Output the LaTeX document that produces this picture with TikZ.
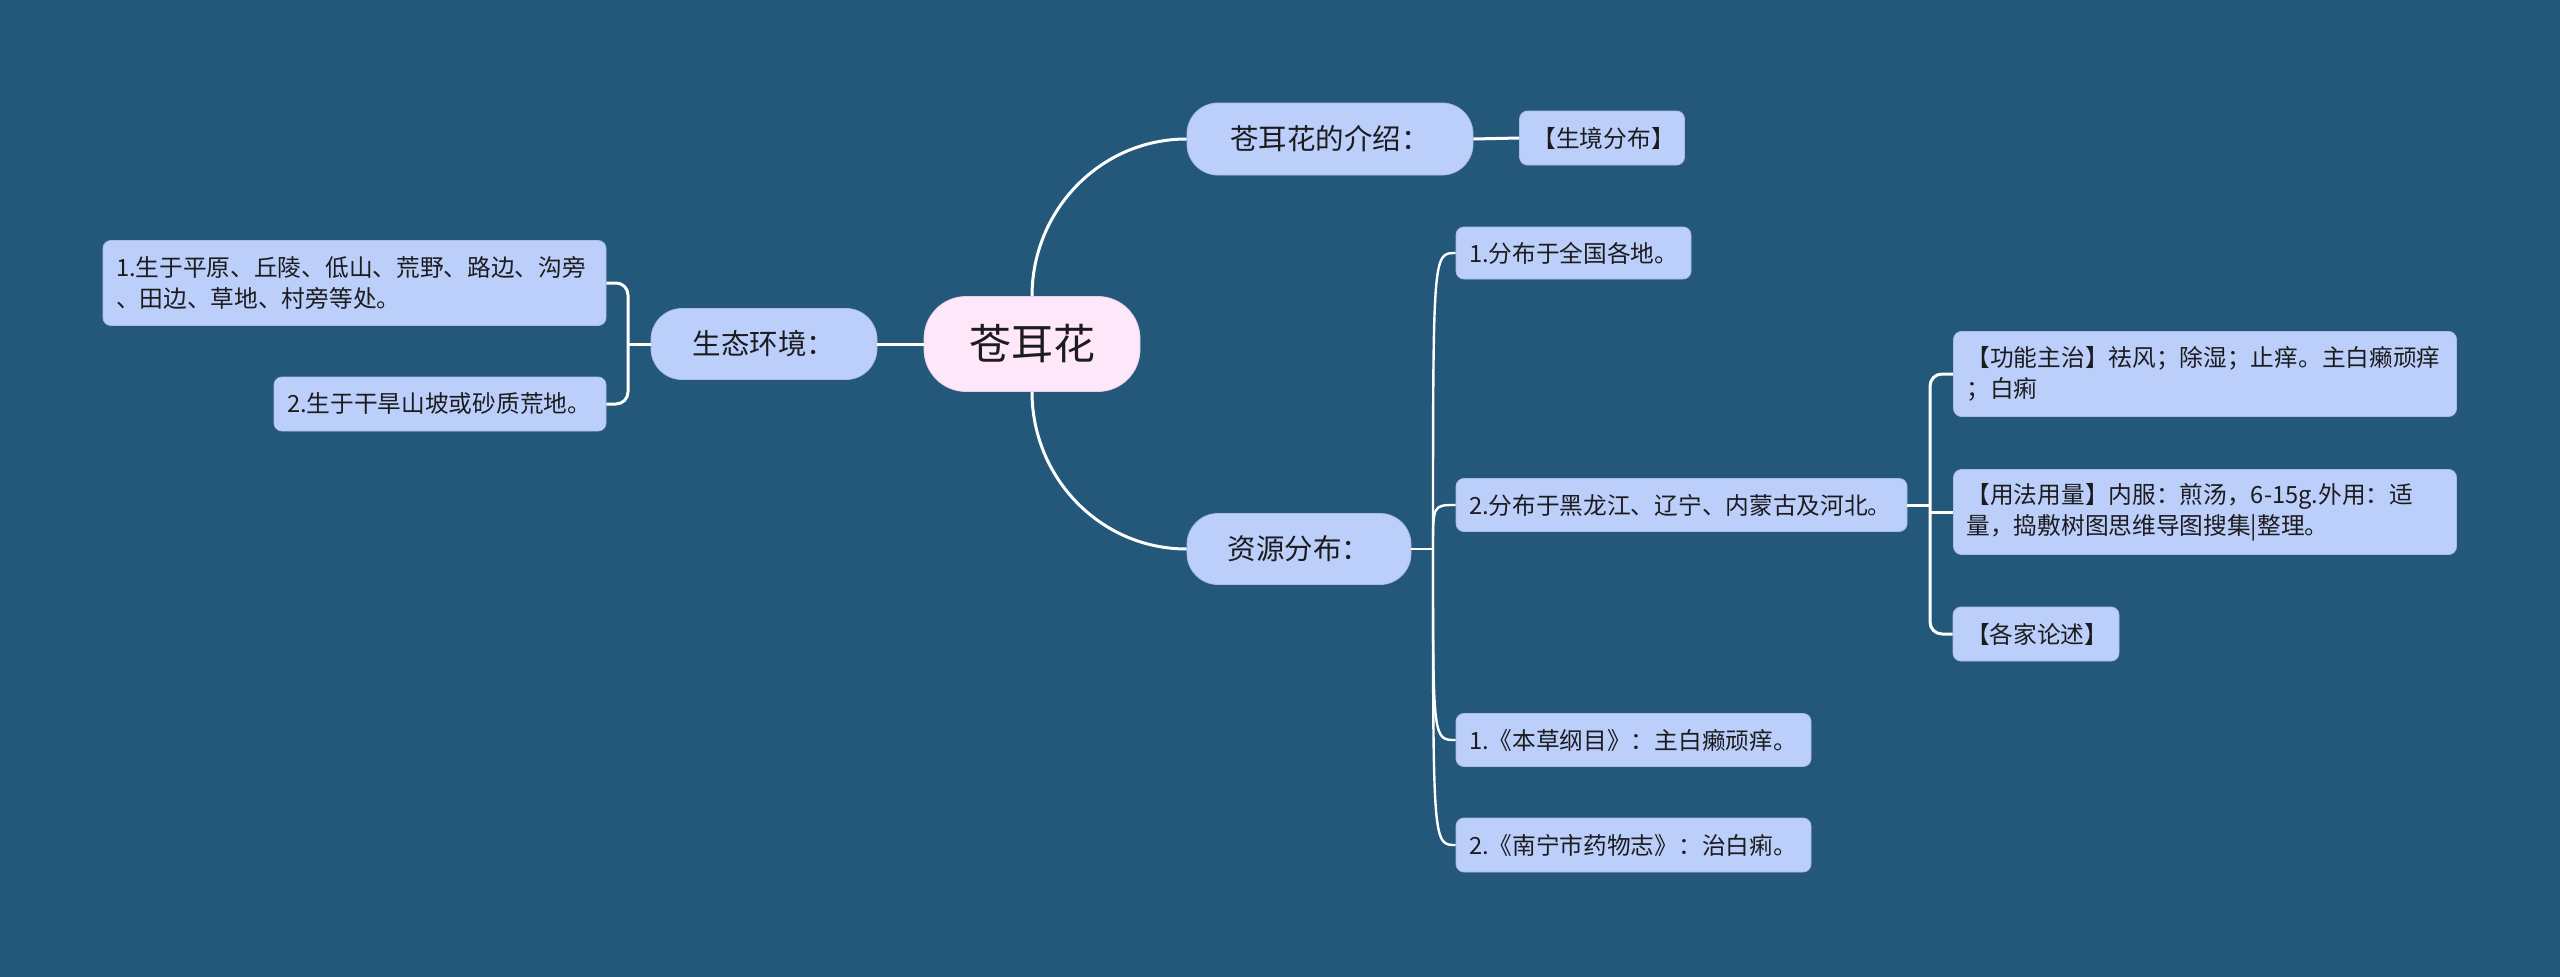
\documentclass[tikz,border=0pt]{standalone}
\usepackage{fontspec}
\setmainfont{Noto Sans CJK SC}
\usetikzlibrary{calc}
\definecolor{bg}{RGB}{35,88,123}
\definecolor{nodeblue}{RGB}{188,207,251}
\definecolor{rootpink}{RGB}{253,231,249}
\definecolor{txt}{RGB}{28,28,30}
\tikzset{
  leaf/.style={fill=nodeblue, draw=nodeblue!85!black!60!nodeblue, line width=0.8pt, rounded corners=8pt, inner xsep=13pt, inner ysep=0pt,
    font=\fontsize{23.7}{31}\selectfont, text=txt, align=left, anchor=center},
  pill/.style={fill=nodeblue, draw=nodeblue!85!black!60!nodeblue, line width=0.8pt, inner sep=0pt, text=txt, align=center, anchor=center,
    font=\fontsize{28.5}{34}\selectfont},
  link/.style={draw=white, line width=3pt},
  thinlink/.style={draw=white, line width=2.4pt},
}
\begin{document}
\begin{tikzpicture}[x=1pt,y=-1pt]
\fill[bg] (0,0) rectangle (2560,977);
\useasboundingbox (0,0) rectangle (2560,977);

% nodes
\node[pill, fill=rootpink, draw=rootpink!90!black, minimum width=216pt, minimum height=95pt, rounded corners=42pt,
  font=\fontsize{42}{48}\selectfont] (root) at (1032,344) {苍耳花};
\node[pill, minimum width=286pt, minimum height=72pt, rounded corners=31pt] (intro) at (1330,139) {苍耳花的介绍：};
\node[leaf, text width=139pt, minimum height=54pt] (sj) at (1602,138) {【生境分布】};
\node[pill, minimum width=226pt, minimum height=71pt, rounded corners=31pt] (env) at (764,344) {生态环境：};
\node[leaf, text width=477pt, minimum height=85pt] (env1) at (354.5,283) {1.生于平原、丘陵、低山、荒野、路边、沟旁\\、田边、草地、村旁等处。};
\node[leaf, text width=306pt, minimum height=54pt] (env2) at (440,404) {2.生于干旱山坡或砂质荒地。};
\node[pill, minimum width=224pt, minimum height=71pt, rounded corners=31pt] (res) at (1299,549) {资源分布：};
\node[leaf, text width=209pt, minimum height=52pt] (r1) at (1573.5,253) {1.分布于全国各地。};
\node[leaf, text width=425pt, minimum height=53pt] (r2) at (1681.5,505) {2.分布于黑龙江、辽宁、内蒙古及河北。};
\node[leaf, text width=477pt, minimum height=85pt] (f1) at (2205,374) {【功能主治】祛风；除湿；止痒。主白癞顽痒\\；白痢};
\node[leaf, text width=477pt, minimum height=85pt] (f2) at (2205,512) {【用法用量】内服：煎汤，6-15g.外用：适\\量，捣敷树图思维导图搜集|整理。};
\node[leaf, text width=140pt, minimum height=54pt] (f3) at (2036,634) {【各家论述】};
\node[leaf, text width=329pt, minimum height=53pt] (b1) at (1633.5,740) {1.《本草纲目》：主白癞顽痒。};
\node[leaf, text width=329pt, minimum height=54pt] (b2) at (1633.5,845) {2.《南宁市药物志》：治白痢。};

% junctions
\coordinate (ej) at (628,344);
\coordinate (rj) at (1433,549);
\coordinate (fj) at (1930,505);

% connectors
\draw[link] (root.north) to[out=90,in=180] (intro.west);
\draw[link] (root.south) to[out=-90,in=180] (res.west);
\draw[link] (root.west) -- (env.east);
\draw[link] (intro.east) -- (sj.west);
\draw[link] (env.west) -- (ej);
\draw[link, rounded corners=12pt] (env1.east) -| (ej);
\draw[link, rounded corners=12pt] (env2.east) -| (ej);
\draw[thinlink] (res.east) -- (rj);
\draw[thinlink] (rj) .. controls (rj |- r1.west) .. (r1.west);
\draw[thinlink] (rj) .. controls (rj |- r2.west) .. (r2.west);
\draw[thinlink] (rj) .. controls (rj |- b1.west) .. (b1.west);
\draw[thinlink] (rj) .. controls (rj |- b2.west) .. (b2.west);
\draw[link] (r2.east) -- (fj);
\draw[link, rounded corners=12pt] (f1.west) -| (fj);
\draw[link, rounded corners=12pt] (f3.west) -| (fj);
\draw[link] (f2.west) -- (f2.west -| fj);
\end{tikzpicture}
\end{document}
